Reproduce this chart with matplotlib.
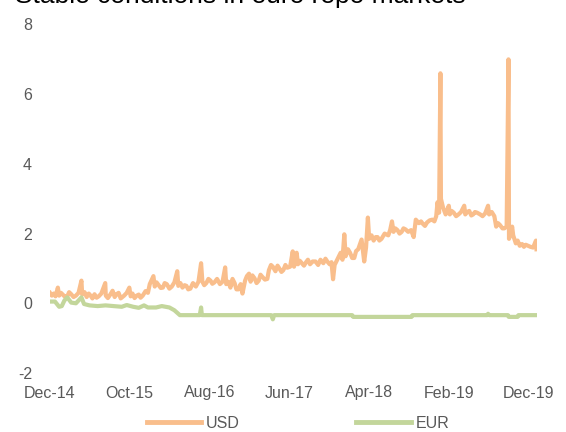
import pandas as pd
import matplotlib
matplotlib.use("Agg")
import matplotlib.pyplot as plt
import matplotlib.dates as mdates
from matplotlib.lines import Line2D

plt.rcParams['font.family'] = ['Liberation Sans', 'DejaVu Sans']
plt.rcParams['axes.unicode_minus'] = False

# USD overnight repo rate (%)
usd_dates = [
    "2014-12-01", "2014-12-08", "2014-12-15", "2014-12-22", "2014-12-31", "2015-01-05",
    "2015-01-12", "2015-01-20", "2015-01-28", "2015-02-05", "2015-02-12", "2015-02-20",
    "2015-03-01", "2015-03-10", "2015-03-20", "2015-03-31", "2015-04-03", "2015-04-12",
    "2015-04-20", "2015-04-28", "2015-05-05", "2015-05-12", "2015-05-20", "2015-05-28",
    "2015-06-05", "2015-06-15", "2015-06-30", "2015-07-02", "2015-07-10", "2015-07-20",
    "2015-07-28", "2015-08-05", "2015-08-12", "2015-08-20", "2015-08-28", "2015-09-10",
    "2015-09-20", "2015-09-30", "2015-10-05", "2015-10-12", "2015-10-20", "2015-10-28",
    "2015-11-05", "2015-11-12", "2015-11-20", "2015-12-01", "2015-12-10", "2015-12-17",
    "2015-12-31", "2016-01-05", "2016-01-12", "2016-01-20", "2016-01-28", "2016-02-05",
    "2016-02-12", "2016-02-20", "2016-03-01", "2016-03-10", "2016-03-20", "2016-03-31",
    "2016-04-04", "2016-04-12", "2016-04-20", "2016-04-28", "2016-05-05", "2016-05-12",
    "2016-05-20", "2016-05-30", "2016-06-10", "2016-06-20", "2016-06-30", "2016-07-05",
    "2016-07-12", "2016-07-20", "2016-07-28", "2016-08-05", "2016-08-12", "2016-08-20",
    "2016-08-30", "2016-09-10", "2016-09-20", "2016-09-30", "2016-10-04", "2016-10-12",
    "2016-10-20", "2016-10-28", "2016-11-05", "2016-11-12", "2016-11-20", "2016-11-28",
    "2016-12-05", "2016-12-15", "2016-12-22", "2016-12-30", "2017-01-05", "2017-01-12",
    "2017-01-20", "2017-01-28", "2017-02-05", "2017-02-12", "2017-02-20", "2017-03-01",
    "2017-03-10", "2017-03-16", "2017-03-24", "2017-03-31", "2017-04-10", "2017-04-18",
    "2017-04-25", "2017-05-03", "2017-05-10", "2017-05-18", "2017-05-25", "2017-06-05",
    "2017-06-15", "2017-06-20", "2017-06-30", "2017-07-05", "2017-07-12", "2017-07-20",
    "2017-07-28", "2017-08-05", "2017-08-12", "2017-08-20", "2017-08-30", "2017-09-10",
    "2017-09-20", "2017-09-29", "2017-10-10", "2017-10-18", "2017-10-25", "2017-11-03",
    "2017-11-10", "2017-11-16", "2017-11-22", "2017-12-05", "2017-12-15", "2017-12-22",
    "2017-12-29", "2018-01-03", "2018-01-12", "2018-01-20", "2018-01-28", "2018-02-05",
    "2018-02-12", "2018-02-20", "2018-03-05", "2018-03-15", "2018-03-22", "2018-03-29",
    "2018-04-03", "2018-04-12", "2018-04-20", "2018-04-28", "2018-05-05", "2018-05-12",
    "2018-05-20", "2018-06-01", "2018-06-15", "2018-06-22", "2018-06-29", "2018-07-05",
    "2018-07-12", "2018-07-20", "2018-07-28", "2018-08-05", "2018-08-12", "2018-08-20",
    "2018-08-30", "2018-09-10", "2018-09-20", "2018-09-28", "2018-10-10", "2018-10-18",
    "2018-10-25", "2018-11-02", "2018-11-10", "2018-11-20", "2018-11-30", "2018-12-08",
    "2018-12-15", "2018-12-20", "2018-12-26", "2018-12-31", "2019-01-02", "2019-01-10",
    "2019-01-20", "2019-02-01", "2019-02-05", "2019-02-12", "2019-02-20", "2019-03-01",
    "2019-03-10", "2019-03-20", "2019-04-01", "2019-04-05", "2019-04-12", "2019-04-20",
    "2019-04-28", "2019-05-05", "2019-05-12", "2019-05-20", "2019-06-01", "2019-06-10",
    "2019-06-20", "2019-07-01", "2019-07-05", "2019-07-15", "2019-07-25", "2019-08-01",
    "2019-08-08", "2019-08-15", "2019-08-25", "2019-09-01", "2019-09-10", "2019-09-17",
    "2019-09-19", "2019-09-25", "2019-10-01", "2019-10-05", "2019-10-15", "2019-10-22",
    "2019-10-30", "2019-11-08", "2019-11-15", "2019-11-22", "2019-12-01", "2019-12-10",
    "2019-12-20", "2019-12-31", "2020-01-02",
]
usd_values = [
    0.30, 0.22, 0.28, 0.20, 0.45, 0.22,
    0.30, 0.24, 0.18, 0.20, 0.32, 0.26,
    0.18, 0.22, 0.30, 0.65, 0.25, 0.32,
    0.18, 0.28, 0.22, 0.14, 0.26, 0.16,
    0.20, 0.28, 0.58, 0.22, 0.15, 0.26,
    0.36, 0.18, 0.26, 0.30, 0.14, 0.22,
    0.30, 0.45, 0.20, 0.28, 0.15, 0.22,
    0.25, 0.16, 0.22, 0.35, 0.30, 0.55,
    0.78, 0.48, 0.60, 0.52, 0.44, 0.45,
    0.58, 0.55, 0.42, 0.48, 0.60, 0.92,
    0.50, 0.58, 0.45, 0.52, 0.50, 0.40,
    0.42, 0.58, 0.48, 0.62, 1.15, 0.62,
    0.52, 0.58, 0.70, 0.65, 0.56, 0.60,
    0.70, 0.55, 0.62, 1.03, 0.55, 0.62,
    0.45, 0.70, 0.58, 0.40, 0.40, 0.55,
    0.28, 0.65, 0.78, 0.85, 0.62, 0.80,
    0.72, 0.58, 0.65, 0.82, 0.75, 0.68,
    0.70, 0.95, 1.10, 1.05, 0.92, 1.08,
    1.00, 0.90, 0.95, 1.10, 1.02, 1.05,
    1.49, 1.05, 1.45, 1.12, 1.22, 1.15,
    1.08, 1.18, 1.25, 1.12, 1.20, 1.20,
    1.10, 1.25, 1.15, 1.28, 1.20, 1.12,
    1.18, 0.69, 1.10, 1.30, 1.45, 1.25,
    1.98, 1.35, 1.55, 1.45, 1.30, 1.30,
    1.50, 1.55, 1.83, 1.20, 1.60, 2.46,
    1.85, 1.95, 1.80, 1.90, 1.90, 1.80,
    1.85, 2.00, 1.95, 2.10, 2.35, 2.05,
    2.15, 2.10, 2.00, 2.05, 2.15, 2.12,
    2.05, 2.10, 1.90, 2.40, 2.30, 2.35,
    2.28, 2.22, 2.32, 2.38, 2.40, 2.35,
    2.50, 2.90, 2.60, 6.60, 3.00, 2.75,
    2.55, 2.80, 2.55, 2.65, 2.60, 2.50,
    2.55, 2.62, 2.80, 2.55, 2.62, 2.65,
    2.52, 2.55, 2.62, 2.60, 2.55, 2.50,
    2.58, 2.80, 2.55, 2.62, 2.50, 2.20,
    2.30, 2.25, 2.15, 2.15, 2.20, 7.00,
    1.85, 2.00, 2.20, 1.95, 1.72, 1.80,
    1.65, 1.70, 1.62, 1.68, 1.65, 1.62,
    1.60, 1.80, 1.55,
]

# EUR repo rate (%)
eur_dates = [
    "2014-12-01", "2014-12-20", "2015-01-05", "2015-01-15", "2015-01-25", "2015-02-05",
    "2015-02-20", "2015-03-10", "2015-03-31", "2015-04-10", "2015-05-01", "2015-06-01",
    "2015-07-01", "2015-08-01", "2015-09-01", "2015-09-20", "2015-10-15", "2015-11-05",
    "2015-11-25", "2015-12-10", "2016-01-10", "2016-02-01", "2016-03-01", "2016-03-20",
    "2016-04-10", "2016-06-25", "2016-06-30", "2016-07-03", "2017-03-25", "2017-03-31",
    "2017-04-05", "2018-01-28", "2018-02-01", "2018-09-12", "2018-09-15", "2019-06-28",
    "2019-07-01", "2019-07-05", "2019-09-15", "2019-09-18", "2019-10-22", "2019-10-25",
    "2020-01-02",
]
eur_values = [
    0.05, 0.05, -0.10, -0.08, 0.08, 0.17,
    0.02, 0.00, 0.17, -0.02, -0.06, -0.08,
    -0.06, -0.08, -0.10, -0.05, -0.10, -0.13,
    -0.06, -0.12, -0.12, -0.08, -0.12, -0.20,
    -0.34, -0.34, -0.12, -0.34, -0.34, -0.46,
    -0.34, -0.34, -0.39, -0.39, -0.34, -0.34,
    -0.30, -0.34, -0.34, -0.39, -0.39, -0.34,
    -0.34,
]

tick_dates = ["2014-12-01", "2015-10-01", "2016-08-01", "2017-06-01",
              "2018-04-01", "2019-02-01", "2019-12-01"]

usd_color = '#F9BE8C'
eur_color = '#C3D69B'
grey = '#595959'

fig = plt.figure(figsize=(5.66, 4.32), dpi=100)
ax = fig.add_axes([50 / 566, 1 - 373 / 432, 486.5 / 566, (373 - 24.5) / 432])

ax.plot(pd.to_datetime(usd_dates), usd_values, color=usd_color, lw=3)
ax.plot(pd.to_datetime(eur_dates), eur_values, color=eur_color, lw=3)

ax.set_ylim(-2, 8)
ax.set_yticks([-2, 0, 2, 4, 6, 8])
ax.set_xlim(pd.Timestamp("2014-12-01"), pd.Timestamp("2020-01-02"))
ax.set_xticks(pd.to_datetime(tick_dates))
ax.xaxis.set_major_formatter(mdates.DateFormatter('%b-%y'))

for s in ax.spines.values():
    s.set_visible(False)
ax.tick_params(axis='both', length=0, labelsize=11.5, labelcolor=grey)
ax.tick_params(axis='y', pad=13)
ax.tick_params(axis='x', pad=9)

# title sits partly above the top edge, as in the source image
fig.text(15 / 566, 1 - 3 / 432, "Stable conditions in euro repo markets",
         fontsize=19, color='black', va='baseline', ha='left')

handles = [Line2D([], [], color=usd_color, lw=3.5),
           Line2D([], [], color=eur_color, lw=3.5)]
fig.legend(handles, ['USD', 'EUR'], loc='center', bbox_to_anchor=(298 / 566, 1 - 423 / 432),
           ncol=2, frameon=False, fontsize=11.5, labelcolor=grey,
           handlelength=3.4, handletextpad=0.3, columnspacing=7.3)

fig.savefig('out.png', dpi=100)
